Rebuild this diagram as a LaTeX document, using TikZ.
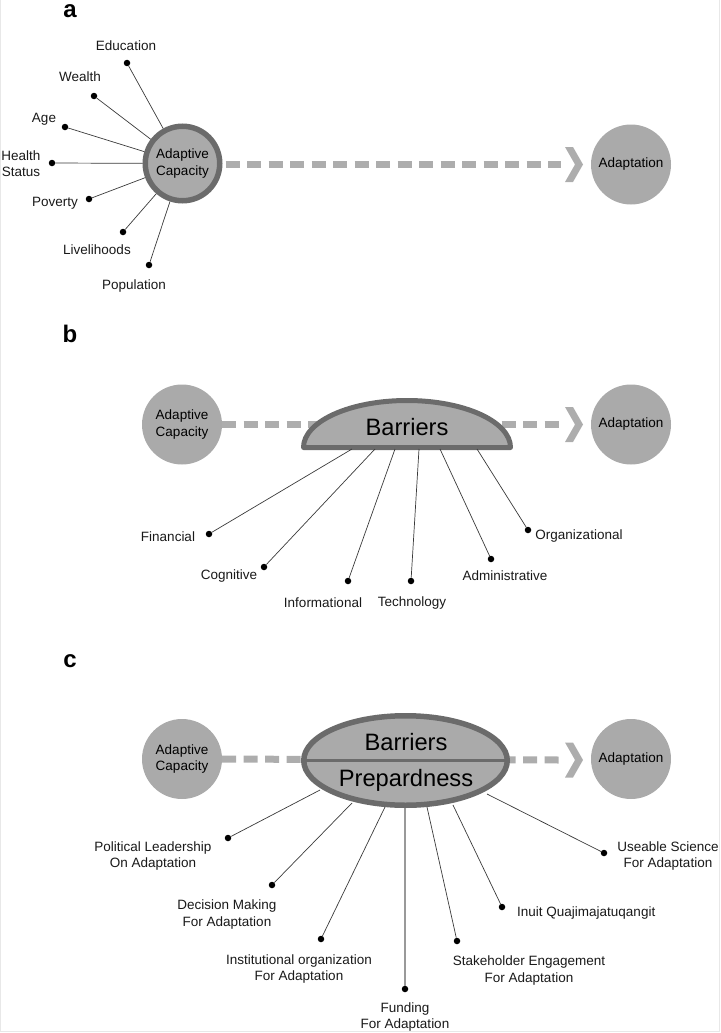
\documentclass[tikz,border=0pt]{standalone}
\usepackage{fontspec}
\setmainfont{Liberation Sans}
\usetikzlibrary{shapes.geometric}
\definecolor{fillg}{HTML}{AAAAAA}
\definecolor{bordg}{HTML}{6B6B6B}
\definecolor{dashg}{HTML}{ADADAD}
\definecolor{spokeg}{HTML}{3A3A3A}
\newcommand\lblfont{\fontsize{13.5}{16.5}\selectfont}
\newcommand\barfont{\fontsize{23.7}{26}\selectfont}
\begin{document}
\begin{tikzpicture}[x=1pt,y=-1pt,
  bubble/.style={circle, fill=fillg, minimum size=80pt, inner sep=0pt, align=center, font=\lblfont, text=black},
  acring/.style={bubble, draw=bordg, line width=5.5pt, minimum size=74.5pt},
  dot/.style={circle, fill=black, minimum size=6.5pt, inner sep=0pt},
  spoke/.style={draw=spokeg, line width=0.7pt},
  lbl/.style={align=center, font=\lblfont, inner sep=0pt, text=black!90},
  dashline/.style={draw=dashg, line width=7pt, dash pattern=on 14pt off 7.5pt},
  panel/.style={font=\fontsize{24}{24}\selectfont\bfseries, inner sep=0pt},
  bigtext/.style={font=\barfont, inner sep=0pt, anchor=base, text=black}
]
\useasboundingbox (0,0) rectangle (720,1033);
\draw[gray!18, line width=1pt] (0.5,-2) -- (0.5,1031.5) -- (719.5,1031.5) -- (719.5,-2);

% ---------------- panel a ----------------
\node[panel] (pa) at (70,11) {a};
\coordinate (e1) at (561,164);
\node[bubble] (ad1) at (631,164.5) {Adaptation};
\draw[dashline] (182.5,164) -- (e1);
\fill[dashg] (565,147) -- (573,147) -- (583,164.5) -- (573,182) -- (565,182) -- (575,164.5) -- cycle;
\node[acring] (ac1) at (182.5,163.5) {Adaptive\\Capacity};

\node[dot] (a1) at (127,63) {};
\node[dot] (a2) at (94,96) {};
\node[dot] (a3) at (65,127) {};
\node[dot] (a4) at (52,163) {};
\node[dot] (a5) at (89,199) {};
\node[dot] (a6) at (123,232) {};
\node[dot] (a7) at (149,265) {};
\foreach \i in {1,...,7} {\draw[spoke] (a\i) -- (ac1);}
\node[lbl] (la1) at (126,46) {Education};
\node[lbl] (la2) at (80,77) {Wealth};
\node[lbl] (la3) at (44,119) {Age};
\node[lbl] (la4) at (21,163.5) {Health\\Status};
\node[lbl] (la5) at (55,203) {Poverty};
\node[lbl] (la6) at (97,250) {Livelihoods};
\node[lbl] (la7) at (134,286) {Population};

% ---------------- panel b ----------------
\node[panel] (pb) at (70,334) {b};
\node[bubble] (ac2) at (182,424.5) {Adaptive\\Capacity};
\node[bubble] (ad2) at (631,424.5) {Adaptation};
\coordinate (e2) at (561,424.5);
\draw[dashline] (ac2) -- (e2);
\fill[dashg] (565,407) -- (573,407) -- (583,424.5) -- (573,442) -- (565,442) -- (575,424.5) -- cycle;
\draw[draw=bordg, fill=fillg, line width=5pt, line join=round]
  (303.5,447.5) arc[start angle=180, end angle=360, x radius=103.5, y radius=47] -- cycle;
\node[bigtext] (bar) at (407,435) {Barriers};

\coordinate (sb1) at (352,449);
\coordinate (sb2) at (375,449);
\coordinate (sb3) at (395,449);
\coordinate (sb4) at (419,449);
\coordinate (sb5) at (440,449);
\coordinate (sb6) at (477,449);
\node[dot] (b1) at (209,534) {};
\node[dot] (b2) at (264,567) {};
\node[dot] (b3) at (348,581) {};
\node[dot] (b4) at (411,581) {};
\node[dot] (b5) at (491,559) {};
\node[dot] (b6) at (528,530) {};
\foreach \i in {1,...,6} {\draw[spoke] (sb\i) -- (b\i);}
\node[lbl] (lb1) at (168,537) {Financial};
\node[lbl] (lb2) at (229,576) {Cognitive};
\node[lbl] (lb3) at (323,603) {Informational};
\node[lbl] (lb4) at (412,603) {Technology};
\node[lbl] (lb5) at (505,576) {Administrative};
\node[lbl] (lb6) at (579,536) {Organizational};

% ---------------- panel c ----------------
\node[panel] (pc) at (70,661) {c};
\node[bubble] (ac3) at (182,759) {Adaptive\\Capacity};
\node[bubble] (ad3) at (631,759) {Adaptation};
\coordinate (e3) at (561,760);
\draw[dashline] (ac3) -- (e3);
\fill[dashg] (565,742.5) -- (573,742.5) -- (583,760) -- (573,777.5) -- (565,777.5) -- (575,760) -- cycle;
\node[ellipse, draw=bordg, fill=fillg, line width=5.5pt, minimum width=203.5pt, minimum height=89.5pt, inner sep=0pt] (bp) at (405.5,760.5) {};
\draw[bordg, line width=2.5pt] (bp.west) -- (bp.east);
\node[bigtext] (bar3) at (406,750) {Barriers};
\node[bigtext] (prep) at (406,786) {Prepardness};

\coordinate (sc1) at (320,790);
\coordinate (sc2) at (352,803);
\coordinate (sc3) at (385,807);
\coordinate (sc4) at (405,808);
\coordinate (sc5) at (427,807);
\coordinate (sc6) at (453,805);
\coordinate (sc7) at (487,794);
\node[dot] (c1) at (228,838) {};
\node[dot] (c2) at (272,885) {};
\node[dot] (c3) at (321,939) {};
\node[dot] (c4) at (405,989) {};
\node[dot] (c5) at (457,941) {};
\node[dot] (c6) at (502,907) {};
\node[dot] (c7) at (604,853) {};
\foreach \i in {1,2,3,5,6,7} {\draw[spoke] (sc\i) -- (c\i);}
\draw[draw=gray!80, line width=1.3pt] (sc4) -- (c4);
\node[lbl] (lc1) at (153,856) {Political Leadership\\On Adaptation};
\node[lbl] (lc2) at (227,914.5) {Decision Making\\For Adaptation};
\node[lbl] (lc3) at (299,969) {Institutional organization\\For Adaptation};
\node[lbl] (lc4) at (405,1017) {Funding\\For Adaptation};
\node[lbl] (lc5) at (529,970.5) {Stakeholder Engagement\\For Adaptation};
\node[lbl, anchor=west] (lc6) at (517,913) {Inuit Quajimajatuqangit};
\node[lbl] (lc7) at (668,856) {Useable Science\\For Adaptation};
\end{tikzpicture}
\end{document}
